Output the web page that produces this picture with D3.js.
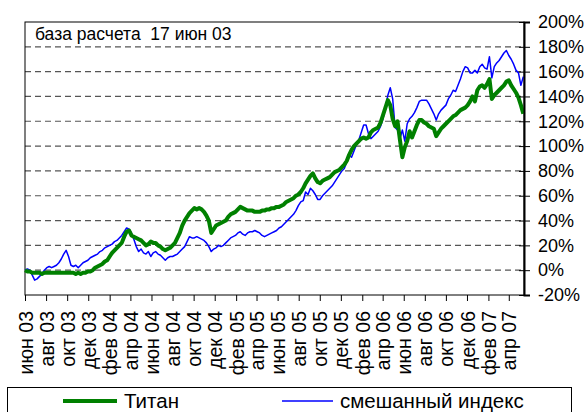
<!DOCTYPE html>
<html>
<head>
<meta charset="utf-8">
<script src="https://cdn.jsdelivr.net/npm/d3@7"></script>
<style>
    body { margin: 0; background: #fff; }
    text { font-family: "Liberation Sans", Arial, sans-serif; fill: #000; }
</style>
</head>
<body>
<script>
// weekly closes from 17 jun 03, % change vs base date
const startDate = new Date(2003, 5, 17);
const endDate = new Date(2007, 4, 31);

const titan = [
    0, -1, -1, -2, -2, -2, -2, -3, -2, -2,
    -2, -2, -2, -2, -2, -2, -2, -2, -2, -2,
    -2, -3, -2, -3, -2, -2, -1, -1, 0, 2,
    3, 4, 5, 7, 8, 11, 14, 16, 18, 20,
    22, 27, 31, 32, 28, 27, 26, 25, 24, 22,
    20, 21, 23, 22, 22, 20, 19, 17, 16, 17,
    18, 20, 22, 26, 30, 36, 40, 43, 46, 48,
    50, 49, 50, 49, 47, 44, 40, 30, 33, 36,
    37, 38, 39, 40, 43, 45, 46, 47, 49, 51,
    50, 49, 48, 48, 48, 47, 47, 47, 48, 48,
    49, 49, 50, 50, 51, 51, 52, 53, 55, 56,
    57, 58, 60, 61, 63, 66, 70, 73, 76, 78,
    74, 71, 70, 72, 73, 74, 75, 77, 79, 80,
    81, 83, 85, 88, 93, 97, 100, 102, 104, 106,
    107, 106, 107, 111, 113, 114, 115, 119, 125, 131,
    137, 133, 122, 116, 120, 105, 91, 99, 104, 112,
    107, 112, 117, 121, 121, 119, 118, 116, 115, 114,
    108, 111, 114, 116, 118, 120, 122, 124, 125, 127,
    129, 130, 131, 133, 136, 140, 136, 145, 148, 149,
    147, 150, 154, 138, 141, 143, 145, 147, 149, 152,
    153, 149, 146, 143, 139, 133, 126
];

const mixed = [
    0, 1, 0, -4, -8, -7, -5, -3, 0, 2,
    3, 2, 3, 4, 6, 9, 13, 16, 11, 4,
    3, 4, 2, 4, 6, 7, 8, 10, 11, 12,
    13, 15, 16, 18, 19, 20, 21, 23, 24, 26,
    28, 31, 34, 33, 30, 25, 19, 15, 17, 14,
    13, 15, 11, 14, 15, 13, 12, 10, 8, 10,
    11, 11, 12, 13, 15, 17, 19, 23, 27, 26,
    26, 27, 26, 25, 24, 22, 19, 15, 17, 18,
    20, 19, 20, 22, 24, 26, 27, 28, 30, 31,
    29, 28, 30, 31, 31, 32, 31, 30, 28, 27,
    28, 29, 30, 31, 32, 34, 35, 37, 39, 41,
    43, 45, 48, 52, 55, 56, 63, 61, 66, 64,
    61, 57, 57, 60, 62, 64, 66, 68, 71, 74,
    77, 80, 82, 87, 93, 91, 96, 101, 105, 111,
    117, 117, 110, 106, 108, 110, 112, 116, 122, 131,
    141, 147, 138, 115, 113, 106, 113, 104, 118, 122,
    124, 127, 131, 136, 137, 137, 137, 134, 130, 126,
    121, 126, 129, 131, 133, 138, 141, 145, 144, 149,
    154, 160, 164, 163, 159, 159, 161, 159, 164, 166,
    163, 162, 172, 155, 164, 167, 169, 172, 175, 177,
    173, 170, 166, 161, 159, 149, 156
];

const yTicks = [-20, 0, 20, 40, 60, 80, 100, 120, 140, 160, 180, 200];
const monthNames = ["янв", "фев", "мар", "апр", "май", "июн", "июл", "авг", "сен", "окт", "ноя", "дек"];
const seriesNames = ["Титан", "смешанный индекс"];
const baseLabel = "база расчета  17 июн 03";

let width = 588,
    height = 412,
    plotLeft = 25,
    plotRight = 524,
    plotTop = 22,
    plotBottom = 295;

let svg = d3.select("body").append("svg")
    .attr("width", width)
    .attr("height", height);

let x = d3.scaleTime()
    .domain([startDate, endDate])
    .range([plotLeft, plotRight]);

let y = d3.scaleLinear()
    .domain([-20, 200])
    .range([plotBottom, plotTop]);

function toPoints(values) {
    return values.map(function (v, i) {
        return { date: d3.timeWeek.offset(startDate, i), value: v };
    });
}

// dashed grid
svg.append("g").selectAll("line")
    .data(yTicks.filter(function (t) { return t > -20 && t < 200; }))
    .enter().append("line")
    .attr("x1", plotLeft)
    .attr("x2", plotRight)
    .attr("y1", function (d) { return y(d); })
    .attr("y2", function (d) { return y(d); })
    .attr("stroke", "#555")
    .attr("stroke-width", 1.2)
    .attr("stroke-dasharray", "6,4");

// plot frame
svg.append("rect")
    .attr("x", plotLeft)
    .attr("y", plotTop)
    .attr("width", plotRight - plotLeft)
    .attr("height", plotBottom - plotTop)
    .attr("fill", "none")
    .attr("stroke", "#000")
    .attr("stroke-width", 1);

let line = d3.line()
    .x(function (d) { return x(d.date); })
    .y(function (d) { return y(d.value); });

svg.append("path")
    .datum(toPoints(mixed))
    .attr("fill", "none")
    .attr("stroke", "#0000ff")
    .attr("stroke-width", 1.5)
    .attr("stroke-linejoin", "round")
    .attr("d", line);

svg.append("path")
    .datum(toPoints(titan))
    .attr("fill", "none")
    .attr("stroke", "#008000")
    .attr("stroke-width", 4)
    .attr("stroke-linejoin", "round")
    .attr("d", line);

// right value axis
let yAxis = d3.axisRight(y)
    .tickValues(yTicks)
    .tickSize(6)
    .tickFormat(function (d) { return d + "%"; });

let yAxisG = svg.append("g")
    .attr("transform", "translate(" + plotRight + ",0)")
    .call(yAxis);
yAxisG.select(".domain").attr("stroke-width", 2);
yAxisG.selectAll(".tick line").attr("x1", -5);
yAxisG.selectAll(".tick text")
    .attr("x", 14)
    .style("font-size", "18px")
    .style("font-family", "'Liberation Sans', Arial, sans-serif");

// date axis, every 2 months from base date
let tickDates = d3.range(0, 24).map(function (i) { return d3.timeMonth.offset(startDate, i * 2); });

let xAxis = d3.axisBottom(x)
    .tickValues(tickDates)
    .tickSize(6)
    .tickFormat(function (d) {
        return monthNames[d.getMonth()] + " " + String(d.getFullYear()).slice(2);
    });

let xAxisG = svg.append("g")
    .attr("transform", "translate(0," + plotBottom + ")")
    .call(xAxis);
xAxisG.select(".domain").remove();
xAxisG.selectAll(".tick text")
    .attr("transform", "rotate(-90)")
    .attr("text-anchor", "end")
    .attr("x", -16)
    .attr("y", 0)
    .attr("dy", "0.36em")
    .style("font-size", "19.5px")
    .style("font-family", "'Liberation Sans', Arial, sans-serif");

svg.append("text")
    .attr("x", 35)
    .attr("y", 40)
    .style("font-size", "17.5px")
    .style("white-space", "pre")
    .text(baseLabel);

// legend
let legend = svg.append("g");
legend.append("rect")
    .attr("x", 7.5)
    .attr("y", 387.5)
    .attr("width", 564)
    .attr("height", 40)
    .attr("fill", "#fff")
    .attr("stroke", "#000");

let legendItems = [
    { name: seriesNames[0], color: "#008000", w: 4, x0: 63, x1: 117 },
    { name: seriesNames[1], color: "#0000ff", w: 1.5, x0: 282, x1: 333 }
];

legendItems.forEach(function (item) {
    legend.append("line")
        .attr("x1", item.x0)
        .attr("x2", item.x1)
        .attr("y1", 401)
        .attr("y2", 401)
        .attr("stroke", item.color)
        .attr("stroke-width", item.w);
    legend.append("text")
        .attr("x", item.x1 + 7)
        .attr("y", 408)
        .style("font-size", "20.5px")
        .text(item.name);
});
</script>
</body>
</html>
